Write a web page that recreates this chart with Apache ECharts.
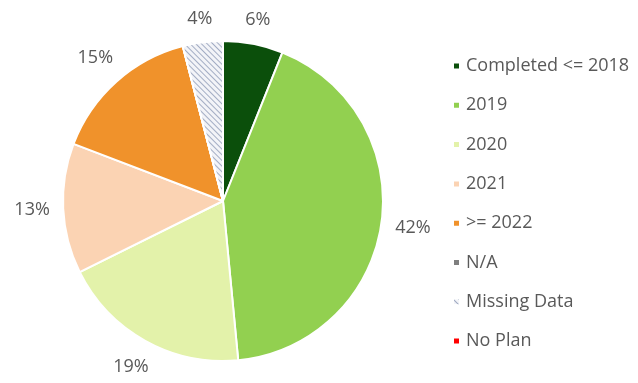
<!DOCTYPE html>
<html>
<head>
<meta charset="utf-8">
<style>
  html, body { margin: 0; padding: 0; background: #ffffff; }
  #chart { width: 638px; height: 383px; }
</style>
<script src="https://cdn.jsdelivr.net/npm/echarts@6/dist/echarts.min.js"></script>
</head>
<body>
<div id="chart"></div>
<script>
// Completion year categories and their share (percent)
const categories = ['Completed <= 2018', '2019', '2020', '2021', '>= 2022', 'N/A', 'Missing Data', 'No Plan'];
const shares = [6, 42, 19, 13, 15, 0, 4, 0];
const colors = ['#0b4f0b', '#92d050', '#e3f2aa', '#fbd3b3', '#f0922b', '#7f7f7f', '#f3f4f8', '#ff0000'];

const CENTER = [223, 201];
const RADIUS = 160;
const LABEL_GAP = 13;

const chart = echarts.init(document.getElementById('chart'));

const pieData = categories.map((name, i) => {
  const item = {
    name: name,
    value: shares[i],
    itemStyle: { color: colors[i] }
  };
  if (name === 'Missing Data') {
    item.itemStyle.decal = {
      symbol: 'rect',
      symbolSize: 1,
      color: '#a3adc4',
      dashArrayX: [1, 0],
      dashArrayY: [1, 2.5],
      rotation: Math.PI / 4
    };
  }
  if (shares[i] === 0) {
    item.label = { show: false };
    item.labelLine = { show: false };
  }
  return item;
});

// Mid-angle of each slice, measured clockwise from 12 o'clock
const total = shares.reduce((a, b) => a + b, 0);
const midAngles = [];
let acc = 0;
shares.forEach(v => {
  midAngles.push(((acc + v / 2) / total) * Math.PI * 2);
  acc += v;
});

// Put each percentage label just outside the rim, along its slice's mid-angle
function placeLabel(params) {
  const a = midAngles[params.dataIndex];
  const dx = Math.sin(a);
  const dy = -Math.cos(a);
  const hw = params.labelRect.width / 2;
  const hh = params.labelRect.height / 2;
  const d = RADIUS + LABEL_GAP + Math.abs(dx) * hw + Math.abs(dy) * hh;
  return {
    x: CENTER[0] + dx * d - hw,
    y: CENTER[1] + dy * d - hh,
    align: 'left',
    verticalAlign: 'top'
  };
}

chart.setOption({
  animation: false,
  backgroundColor: '#ffffff',
  legend: {
    orient: 'vertical',
    left: 447,
    top: 52,
    itemWidth: 7,
    itemHeight: 7,
    itemGap: 21.3,
    icon: 'rect',
    data: categories,
    textStyle: {
      fontFamily: 'Open Sans',
      fontSize: 18,
      color: '#595959',
      padding: [0, 0, 0, 1]
    }
  },
  series: [{
    type: 'pie',
    center: CENTER,
    radius: RADIUS,
    startAngle: 90,
    clockwise: true,
    avoidLabelOverlap: false,
    itemStyle: { borderColor: '#ffffff', borderWidth: 2 },
    label: {
      show: true,
      position: 'outside',
      formatter: '{c}%',
      fontFamily: 'Open Sans',
      fontSize: 18,
      color: '#595959'
    },
    labelLine: { show: false, length: 0, length2: 0 },
    labelLayout: placeLabel,
    emphasis: { disabled: true },
    data: pieData
  }]
});
</script>
</body>
</html>
